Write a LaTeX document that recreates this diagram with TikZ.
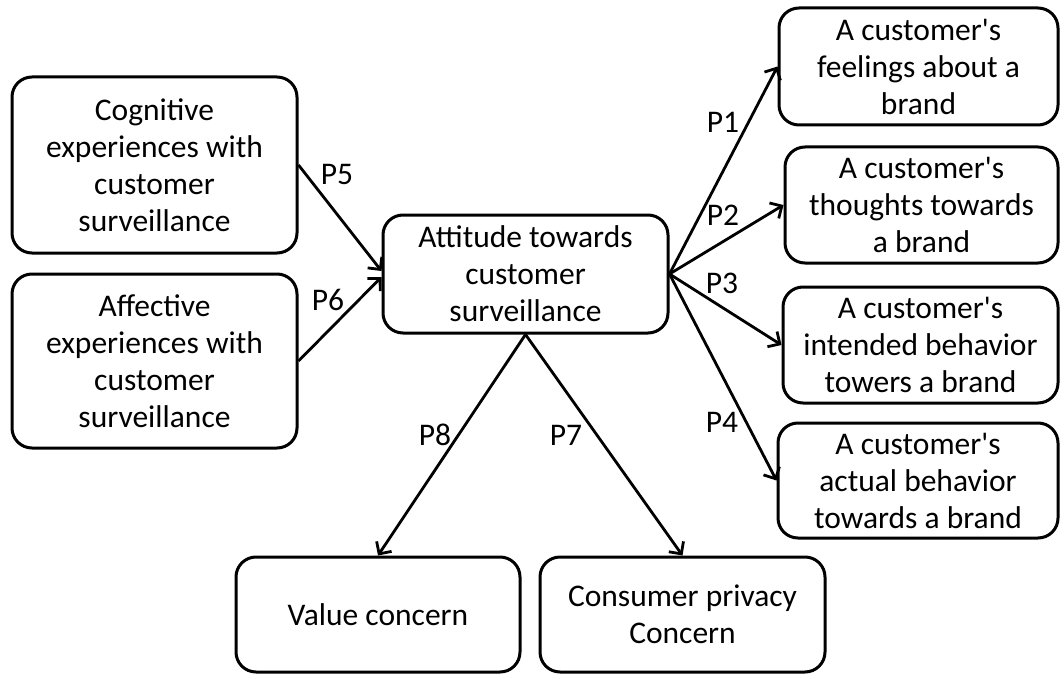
\documentclass[tikz,border=0pt]{standalone}
\usepackage{fontspec}
\setmainfont{Carlito}
\usetikzlibrary{arrows.meta}
\newcommand{\apos}{\textquotesingle}
\begin{document}
\begin{tikzpicture}[x=1pt,y=-1pt,
  box/.style={draw, line width=3pt, rounded corners=20pt, align=center,
    inner sep=0pt, font=\fontsize{31.5}{37}\selectfont},
  conn/.style={line width=2.8pt, -{Straight Barb[length=9pt,width=18pt]}},
  plabel/.style={inner sep=0pt, font=\fontsize{31.5}{37}\selectfont}]
\useasboundingbox (0,0) rectangle (1060,674);

% left inputs
\node[box, minimum width=285pt, minimum height=176pt] (cog) at (154.5,165)
  {Cognitive\\experiences with\\customer\\surveillance};
\node[box, minimum width=285pt, minimum height=174pt] (aff) at (154.5,361)
  {Affective\\experiences with\\customer\\surveillance};

% central construct
\node[box, minimum width=285pt, minimum height=118pt] (att) at (525.5,274)
  {Attitude towards\\customer\\surveillance};

% right outcomes
\node[box, minimum width=279pt, minimum height=117pt] (feel) at (918.5,66.5)
  {A customer\apos s\\feelings about a\\brand};
\node[box, minimum width=273pt, minimum height=116pt] (thou) at (921.5,205)
  {A customer\apos s\\thoughts towards\\a brand};
\node[box, minimum width=275pt, minimum height=116pt] (inte) at (920.5,345)
  {A customer\apos s\\intended behavior\\towers a brand};
\node[box, minimum width=280pt, minimum height=115pt] (act) at (918,480.5)
  {A customer\apos s\\actual behavior\\towards a brand};

% bottom outcomes
\node[box, minimum width=284pt, minimum height=115pt] (val) at (378,614.5)
  {Value concern};
\node[box, minimum width=285pt, minimum height=115pt] (cons) at (682.5,614.5)
  {Consumer privacy\\Concern};

% connectors
\draw[conn] (cog.east) -- ([yshift=3pt]att.west);
\draw[conn] (aff.east) -- ([yshift=-3pt]att.west);
\draw[conn] (att.east) -- (feel.west);
\draw[conn] (att.east) -- (thou.west);
\draw[conn] (att.east) -- (inte.west);
\draw[conn] (att.east) -- (act.west);
\draw[conn] (att.south) -- (val.north);
\draw[conn] (att.south) -- (cons.north);

% path labels
\node[plabel] (p1) at (723,122) {P1};
\node[plabel] (p2) at (723,215) {P2};
\node[plabel] (p3) at (722,283) {P3};
\node[plabel] (p4) at (722,422) {P4};
\node[plabel] (p5) at (337,175) {P5};
\node[plabel] (p6) at (328,300) {P6};
\node[plabel] (p8) at (435,435) {P8};
\node[plabel] (p7) at (566,435) {P7};
\end{tikzpicture}
\end{document}
